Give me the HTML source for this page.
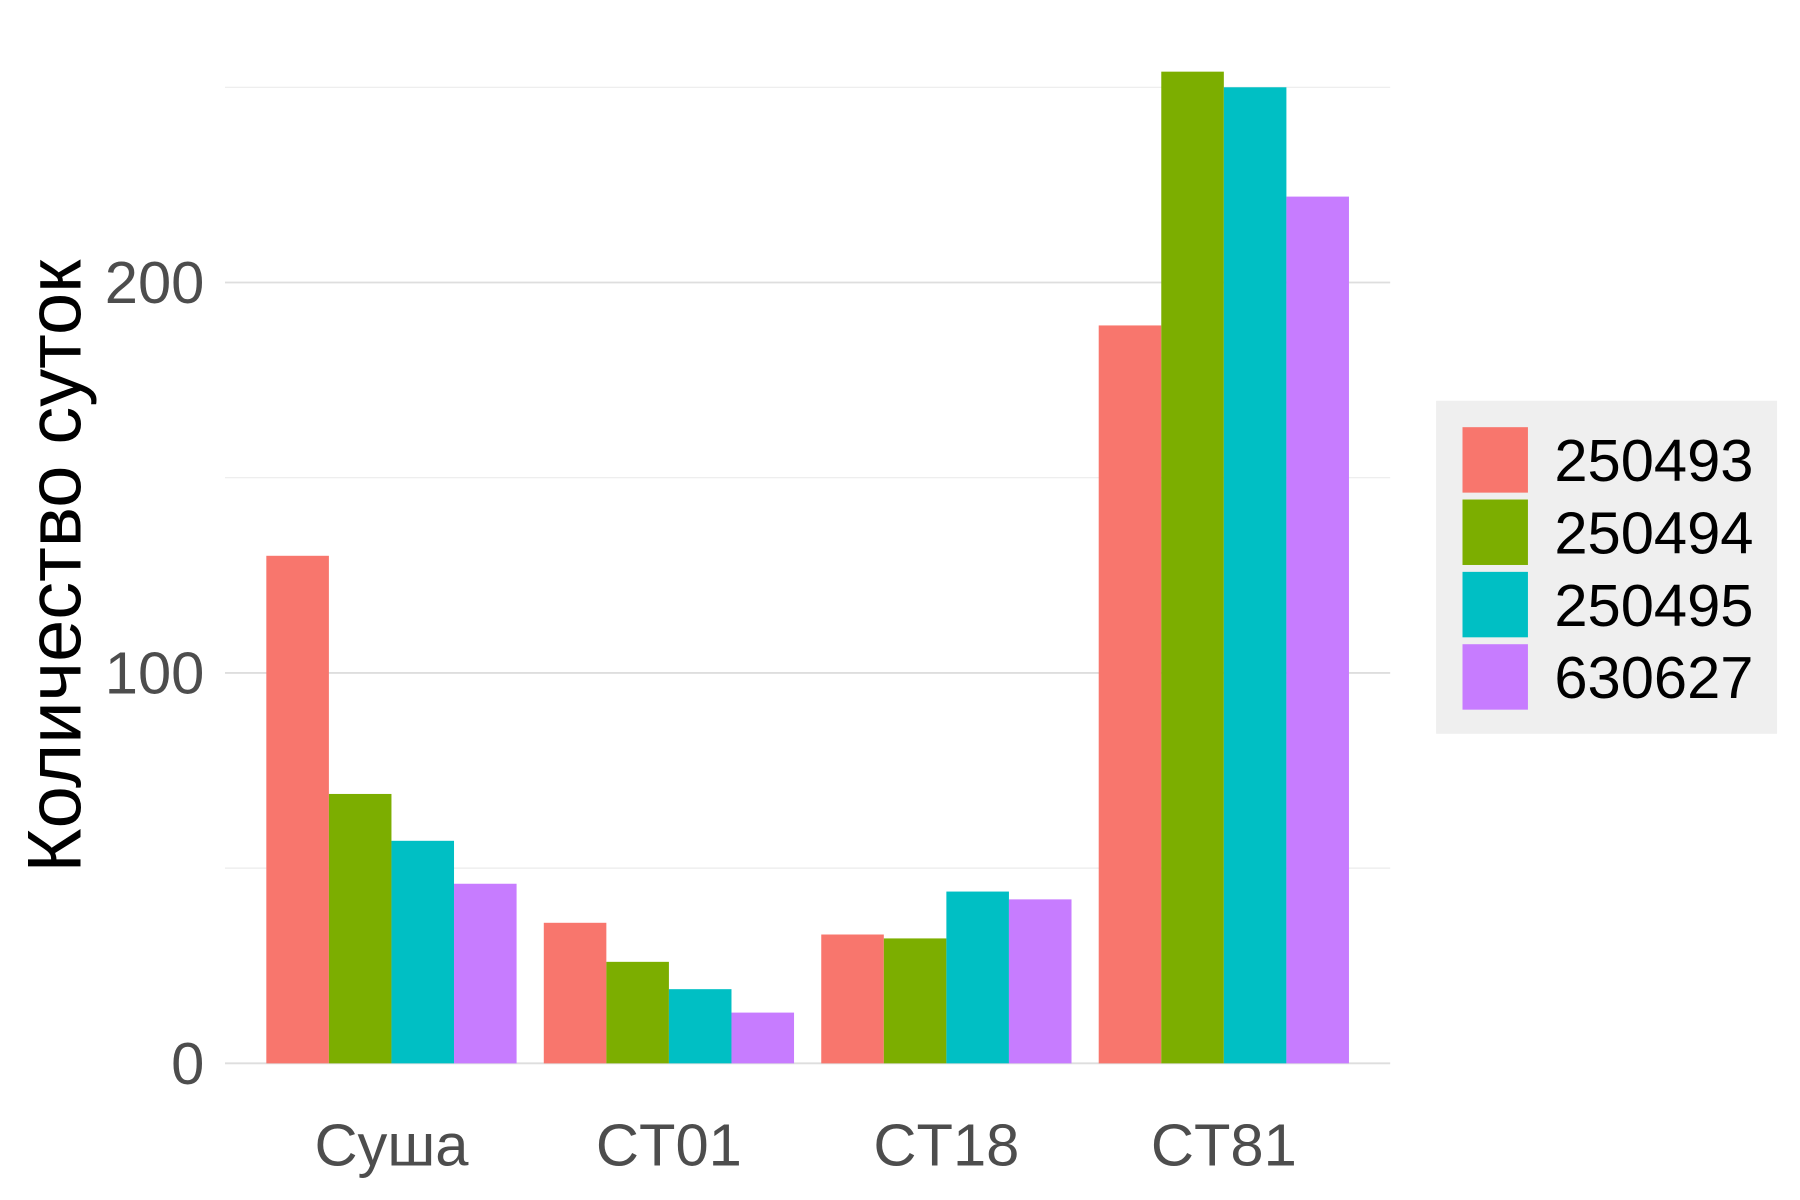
<!DOCTYPE html>
<html><head><meta charset="utf-8"><style>html,body{margin:0;padding:0;background:#fff}svg{display:block}</style></head>
<body>
<svg id="chart" width="1800" height="1200" viewBox="0 0 1568 1045" preserveAspectRatio="none" xmlns="http://www.w3.org/2000/svg" font-family="Liberation Sans, Arial, sans-serif">
<rect width="1568" height="1045" fill="#fff"/>
<g id="grid"></g>
<g id="bars"></g>
<g id="axes"></g>
<text transform="translate(70,493) rotate(-90)" text-anchor="middle" font-size="66" fill="#000">Количество суток</text>
<g id="legend">
<rect x="1251" y="349" width="297" height="290" fill="#efefef"/>
</g>
</svg>
<script>
const categories = ["Суша","CT01","CT18","CT81"];
const seriesNames = ["250493","250494","250495","630627"];
const colors = ["#F8766D","#7CAE00","#00BFC4","#C77CFF"];
const s250493 = [130, 36, 33, 189];
const s250494 = [69, 26, 32, 254];
const s250495 = [57, 19, 44, 250];
const s630627 = [46, 13, 42, 222];
const yTicks = [0, 100, 200];
const yMinor = [50, 150, 250];
const series = [s250493, s250494, s250495, s630627];

const NS = "http://www.w3.org/2000/svg";
const px0 = 196, px1 = 1211;
const y = v => 926 - v * 3.4;
const catStep = 241.7;
const x = i => 341 + catStep * i;
const groupW = 218, barW = groupW / series.length;
function mk(tag, attrs, parent) { const e = document.createElementNS(NS, tag); for (const k in attrs) e.setAttribute(k, attrs[k]); parent.appendChild(e); return e; }
const grid = document.getElementById('grid'), bars = document.getElementById('bars'), axes = document.getElementById('axes'), legend = document.getElementById('legend');
yMinor.forEach(v => { const l = mk('line', {x1: px0, x2: px1, y1: y(v), y2: y(v), stroke: '#ebebeb', 'stroke-width': 1}, grid);
  
   });
yTicks.forEach(v => { const l = mk('line', {x1: px0, x2: px1, y1: y(v), y2: y(v), stroke: '#dedede', 'stroke-width': 1.6}, grid);
  
  
  const t = mk('text', {x: 178, y: y(v) + 18, 'text-anchor': 'end', 'font-size': 52, fill: '#4d4d4d'}, axes); t.textContent = v;
  
   });
categories.forEach((c, i) => {
  const t = mk('text', {x: x(i), y: 1015, 'text-anchor': 'middle', 'font-size': 52, fill: '#4d4d4d'}, axes); t.textContent = c;
  
  
  series.forEach((s, j) => {
    const r = mk('rect', {x: x(i) - groupW / 2 + j * barW, y: y(s[i]), width: barW, height: y(0) - y(s[i]), fill: colors[j]}, bars);
    
    
  });
});
seriesNames.forEach((n, j) => {
  const ky = 372 + j * 63;
  const r = mk('rect', {x: 1274, y: ky, width: 57, height: 57, fill: colors[j]}, legend);
  
  
  const t = mk('text', {x: 1354, y: ky + 47, 'font-size': 52, fill: '#000'}, legend); t.textContent = n;
  
  
});
</script>
</body></html>
